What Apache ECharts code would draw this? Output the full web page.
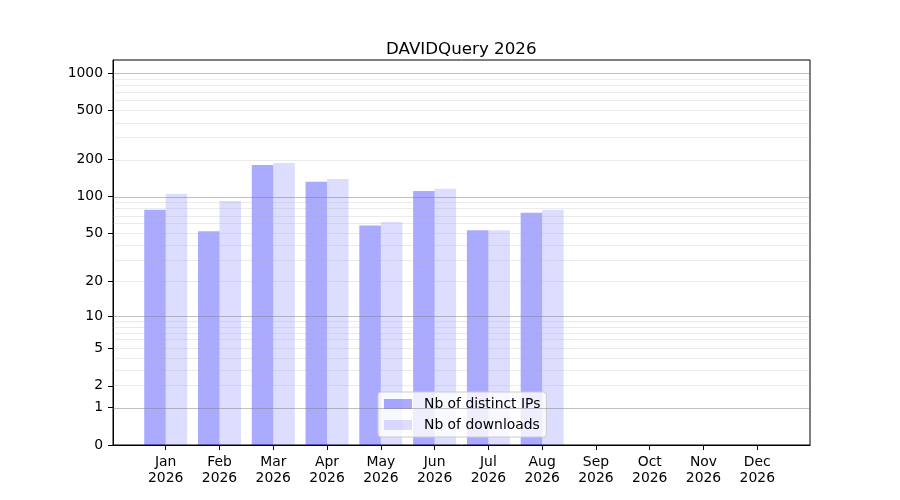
<!DOCTYPE html>
<html>
<head>
<meta charset="utf-8">
<script src="https://cdn.jsdelivr.net/npm/echarts@6/dist/echarts.min.js"></script>
<style>html,body{margin:0;padding:0;background:#fff;}#c{width:900px;height:500px;}</style>
</head>
<body>
<div id="c"></div>
<script>
// ---- data ----
const months = ['Jan','Feb','Mar','Apr','May','Jun','Jul','Aug','Sep','Oct','Nov','Dec'];
const year = '2026';
const distinctIPs = [78, 52, 181, 132, 58, 111, 53, 74];
const downloads = [105, 92, 188, 139, 62, 116, 53, 78];
const yTickValues = [0, 1, 2, 5, 10, 20, 50, 100, 200, 500, 1000];
const majorGrid = [1, 10, 100, 1000];
const minorGrid = [2,3,4,5,6,7,8,9,20,30,40,50,60,70,80,90,200,300,400,500,600,700,800,900];

// log10(x+1) scale
const f = v => Math.log10(v + 1);
const FONT = 'DejaVu Sans';

const chart = echarts.init(document.getElementById('c'), null, {renderer: 'canvas'});
const monthIdx = months.map((m, i) => i);

const option = {
  animation: false,
  backgroundColor: '#fff',
  title: {
    text: 'DAVIDQuery ' + year,
    left: 381, top: 36,
    textStyle: {fontFamily: FONT, fontSize: 16.7, fontWeight: 'normal', color: '#000'}
  },
  grid: {
    left: 113, right: 90, top: 60, bottom: 55,
    show: true, borderColor: '#000', borderWidth: 1, backgroundColor: 'transparent'
  },
  legend: {
    data: ['Nb of distinct IPs', 'Nb of downloads'],
    orient: 'vertical',
    left: 378, top: 392,
    icon: 'rect', itemWidth: 28, itemHeight: 10, itemGap: 7,
    padding: [5, 6, 5, 6],
    backgroundColor: 'rgba(255,255,255,0.8)',
    borderColor: '#cccccc', borderWidth: 1, borderRadius: 3,
    textStyle: {fontFamily: FONT, fontSize: 13.9, color: '#000', lineHeight: 14, padding: [0, 0, 0, 7]}
  },
  xAxis: {
    type: 'value', min: -0.98, max: 11.98,
    axisLine: {show: true, onZero: false, lineStyle: {color: '#000', width: 1}},
    splitLine: {show: false},
    axisTick: {show: true, customValues: monthIdx, length: 5, lineStyle: {color: '#000'}},
    axisLabel: {
      customValues: monthIdx, margin: 9,
      fontFamily: FONT, fontSize: 13.9, color: '#000', lineHeight: 16,
      formatter: v => months[Math.round(v)] + '\n' + year
    }
  },
  yAxis: {
    type: 'value', min: 0, max: 3.107,
    axisLine: {show: true, onZero: false, lineStyle: {color: '#000', width: 1}},
    splitLine: {show: false},
    axisTick: {show: true, customValues: yTickValues.map(f), length: 5, lineStyle: {color: '#000'}},
    axisLabel: {
      customValues: yTickValues.map(f), margin: 10,
      fontFamily: FONT, fontSize: 13.9, color: '#000',
      formatter: v => String(Math.round(Math.pow(10, v) - 1))
    }
  },
  series: [
    {
      name: 'Nb of distinct IPs', type: 'bar',
      barWidth: 21.5, barGap: '0%',
      itemStyle: {color: 'rgba(0,0,255,0.333)'},
      data: distinctIPs.map((v, i) => [i, f(v)]),
      z: 2
    },
    {
      name: 'Nb of downloads', type: 'bar',
      barWidth: 21.5, barGap: '0%',
      itemStyle: {color: 'rgba(0,0,255,0.133)'},
      data: downloads.map((v, i) => [i, f(v)]),
      z: 2
    },
    {
      name: 'gridMinor', type: 'line', data: [], silent: true, z: 3,
      markLine: {
        silent: true, symbol: 'none', animation: false,
        label: {show: false},
        lineStyle: {color: 'rgba(176,176,176,0.25)', type: 'solid', width: 1},
        data: minorGrid.map(v => ({yAxis: f(v)}))
      }
    },
    {
      name: 'gridMajor', type: 'line', data: [], silent: true, z: 3,
      markLine: {
        silent: true, symbol: 'none', animation: false,
        label: {show: false},
        lineStyle: {color: 'rgba(128,128,128,0.5)', type: 'solid', width: 1},
        data: majorGrid.map(v => ({yAxis: f(v)}))
      }
    }
  ]
};
chart.setOption(option);
</script>
</body>
</html>
